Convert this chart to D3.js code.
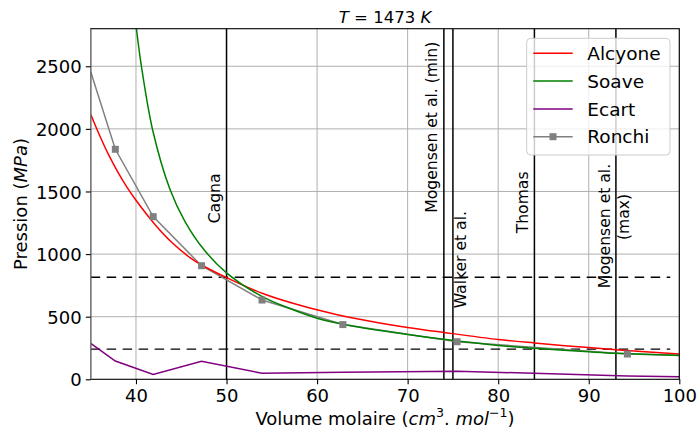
<!DOCTYPE html>
<html><head><meta charset="utf-8">
<script src="https://cdn.jsdelivr.net/npm/d3@7"></script>
<style>
body{margin:0;background:#fff}
svg{display:block}
text{font-family:"DejaVu Sans",sans-serif;fill:#000}
</style>
</head><body>
<svg id="chart" width="699" height="430"></svg>
<script>
// ---------- data ----------
const xTicks = [40, 50, 60, 70, 80, 90, 100];
const yTicks = [0, 500, 1000, 1500, 2000, 2500];

const alcyoneV = [35, 36, 37, 38, 39, 40, 42, 44, 46, 47.2, 50, 54, 58, 62, 66, 70, 74, 80, 84, 90, 95, 100];
const alcyoneP = [2117, 1945, 1790, 1655, 1535, 1430, 1245, 1090, 970, 915, 812, 685, 593, 520, 462, 414, 374, 318, 290, 253, 226, 202];

const soaveV = [40.0, 40.6, 41.84, 43.74, 45.4, 47.5, 50, 53.9, 57, 60, 63.6, 70, 74, 80, 84, 90, 93, 100];
const soaveP = [2830, 2500, 1991, 1520, 1262, 1036, 850, 662, 565, 488, 430, 358, 319, 270, 247, 220, 208, 190];

const ronchiV = [35, 37.72, 41.9, 47.24, 53.92, 62.85, 75.46, 94.27, 100];
const ronchiP = [2457, 1837, 1299, 907, 633, 437, 300, 202, 192];

const ecartV = [35, 37.72, 41.9, 47.24, 53.92, 62.85, 75.46, 94.27, 100];
const ecartP = [287, 146, 38, 144, 48, 56, 65, 26, 20];

const refVolumes = [50, 74, 75, 84, 93];
const refNames = ["Cagna", "Mogensen et al. (min)", "Walker et al.", "Thomas", "Mogensen et al.\n(max)"];
const refPressures = [815, 241];

const seriesNames = ["Alcyone", "Soave", "Ecart", "Ronchi"];
const seriesColors = ["#ff0000", "#008000", "#800080", "#808080"];

// ---------- layout ----------
const L = 90.7, R = 679.3, T = 28.7, B = 379.3;
const svg = d3.select("#chart");

const x = d3.scaleLinear().domain([35, 100]).range([L, R]);
const y = d3.scaleLinear().domain([0, 2800]).range([B, T]);

svg.append("defs").append("clipPath").attr("id", "plotclip")
  .append("rect").attr("x", L).attr("y", T).attr("width", R - L).attr("height", B - T);

// grid
const grid = svg.append("g").attr("stroke", "#b0b0b0").attr("stroke-width", 1);
grid.selectAll("line.vx").data(xTicks).join("line")
  .attr("x1", d => x(d)).attr("x2", d => x(d)).attr("y1", T).attr("y2", B);
grid.selectAll("line.hy").data(yTicks.filter(d => d > 0)).join("line")
  .attr("x1", L).attr("x2", R).attr("y1", d => y(d)).attr("y2", d => y(d));

const plot = svg.append("g").attr("clip-path", "url(#plotclip)");

// dashed reference pressures
plot.selectAll("line.hp").data(refPressures).join("line")
  .attr("x1", x(35)).attr("x2", x(99)).attr("y1", d => y(d)).attr("y2", d => y(d))
  .attr("stroke", "#000").attr("stroke-width", 1.3).attr("stroke-dasharray", "9.5,6.5");

// vertical reference volumes
plot.selectAll("line.rv").data(refVolumes).join("line")
  .attr("x1", d => x(d)).attr("x2", d => x(d)).attr("y1", T).attr("y2", B)
  .attr("stroke", "#000").attr("stroke-width", 1.5);

// curves
const smooth = d3.line().x(d => x(d[0])).y(d => y(d[1])).curve(d3.curveCatmullRom.alpha(0.5));
const straight = d3.line().x(d => x(d[0])).y(d => y(d[1]));

plot.append("path").datum(d3.zip(ronchiV, ronchiP)).attr("d", straight)
  .attr("fill", "none").attr("stroke", seriesColors[3]).attr("stroke-width", 1.5);
plot.append("path").datum(d3.zip(alcyoneV, alcyoneP)).attr("d", smooth)
  .attr("fill", "none").attr("stroke", seriesColors[0]).attr("stroke-width", 1.5);
plot.append("path").datum(d3.zip(soaveV, soaveP)).attr("d", smooth)
  .attr("fill", "none").attr("stroke", seriesColors[1]).attr("stroke-width", 1.5);
plot.append("path").datum(d3.zip(ecartV, ecartP)).attr("d", straight)
  .attr("fill", "none").attr("stroke", seriesColors[2]).attr("stroke-width", 1.5);

// Ronchi markers (interior sample points)
const ms = 7;
plot.selectAll("rect.rm").data(d3.zip(ronchiV, ronchiP).slice(1, -1)).join("rect")
  .attr("x", d => x(d[0]) - ms / 2).attr("y", d => y(d[1]) - ms / 2)
  .attr("width", ms).attr("height", ms).attr("fill", seriesColors[3]);

// spines
svg.append("rect").attr("x", L).attr("y", T).attr("width", R - L).attr("height", B - T)
  .attr("fill", "none").attr("stroke", "#000").attr("stroke-width", 1.1);
svg.append("line").attr("x1", L).attr("x2", L).attr("y1", T).attr("y2", B)
  .attr("stroke", "#7a7a7a").attr("stroke-width", 1.4);

// axes
const xAxis = svg.append("g").attr("transform", `translate(0,${B})`)
  .call(d3.axisBottom(x).tickValues(xTicks).tickSize(4.9).tickPadding(4).tickFormat(d3.format("d")));
const yAxis = svg.append("g").attr("transform", `translate(${L},0)`)
  .call(d3.axisLeft(y).tickValues(yTicks).tickSize(4.9).tickPadding(4).tickFormat(d3.format("d")));
[xAxis, yAxis].forEach(a => {
  a.select(".domain").remove();
  a.selectAll(".tick line").attr("stroke", "#000").attr("stroke-width", 1.1);
  a.selectAll(".tick text").attr("font-size", 18).attr("font-family", "DejaVu Sans").attr("fill", "#000");
});
xAxis.selectAll(".tick text").attr("dy", null).attr("y", 22.4);
yAxis.selectAll(".tick text").attr("dy", null).attr("x", -9).attr("y", 6.6);

// reference line labels
const labelLayout = [
  {dx: -6.7, y0: 223.3},
  {dx: -6.4, y0: 212.7},
  {dx: 13, y0: 308.3},
  {dx: -6.4, y0: 233.3},
  {dx: [-6.3, 12.6], y0: [288.3, 240]}
];
refNames.forEach((name, i) => {
  const lines = name.split("\n");
  const lay = labelLayout[i];
  lines.forEach((ln, j) => {
    const dx = Array.isArray(lay.dx) ? lay.dx[j] : lay.dx;
    const y0 = Array.isArray(lay.y0) ? lay.y0[j] : lay.y0;
    svg.append("text")
      .attr("transform", `translate(${x(refVolumes[i]) + dx},${y0}) rotate(-90)`)
      .attr("font-size", 15.6).attr("text-anchor", "start").text(ln);
  });
});

// axis labels
const xl = svg.append("text").attr("x", (L + R) / 2).attr("y", 425)
  .attr("text-anchor", "middle").attr("font-size", 18);
xl.append("tspan").text("Volume molaire (");
xl.append("tspan").attr("font-style", "italic").text("cm");
xl.append("tspan").attr("font-size", 12.6).attr("dy", -7.7).text("3");
xl.append("tspan").attr("dy", 7.7).text(". ");
xl.append("tspan").attr("font-style", "italic").text("mol");
xl.append("tspan").attr("font-size", 12.6).attr("dy", -7.7).text("\u22121");
xl.append("tspan").attr("dy", 7.7).text(")");

const yl = svg.append("text").attr("transform", `translate(26.7,${(T + B) / 2}) rotate(-90)`)
  .attr("text-anchor", "middle").attr("font-size", 18);
yl.append("tspan").text("Pression (");
yl.append("tspan").attr("font-style", "italic").text("MPa");
yl.append("tspan").text(")");

// title
const tt = svg.append("text").attr("x", (L + R) / 2).attr("y", 22.7)
  .attr("text-anchor", "middle").attr("font-size", 16.5);
tt.append("tspan").attr("font-style", "italic").text("T");
tt.append("tspan").text(" = 1473 ");
tt.append("tspan").attr("font-style", "italic").text("K");

// legend
const lg = svg.append("g");
lg.append("rect").attr("x", 526.7).attr("y", 38.3).attr("width", 143.3).attr("height", 116.7)
  .attr("rx", 4).attr("fill", "#fff").attr("fill-opacity", 0.8)
  .attr("stroke", "#cccccc").attr("stroke-width", 1);
seriesNames.forEach((n, i) => {
  const ly = 53.3 + i * 27.8;
  lg.append("line").attr("x1", 533.3).attr("x2", 572.7).attr("y1", ly).attr("y2", ly)
    .attr("stroke", seriesColors[i]).attr("stroke-width", 1.5);
  if (n === "Ronchi") {
    lg.append("rect").attr("x", 553 - ms / 2).attr("y", ly - ms / 2).attr("width", ms).attr("height", ms)
      .attr("fill", seriesColors[i]);
  }
  lg.append("text").attr("x", 587.3).attr("y", ly + 6.6).attr("font-size", 18.5).text(n);
});
</script>
</body></html>
